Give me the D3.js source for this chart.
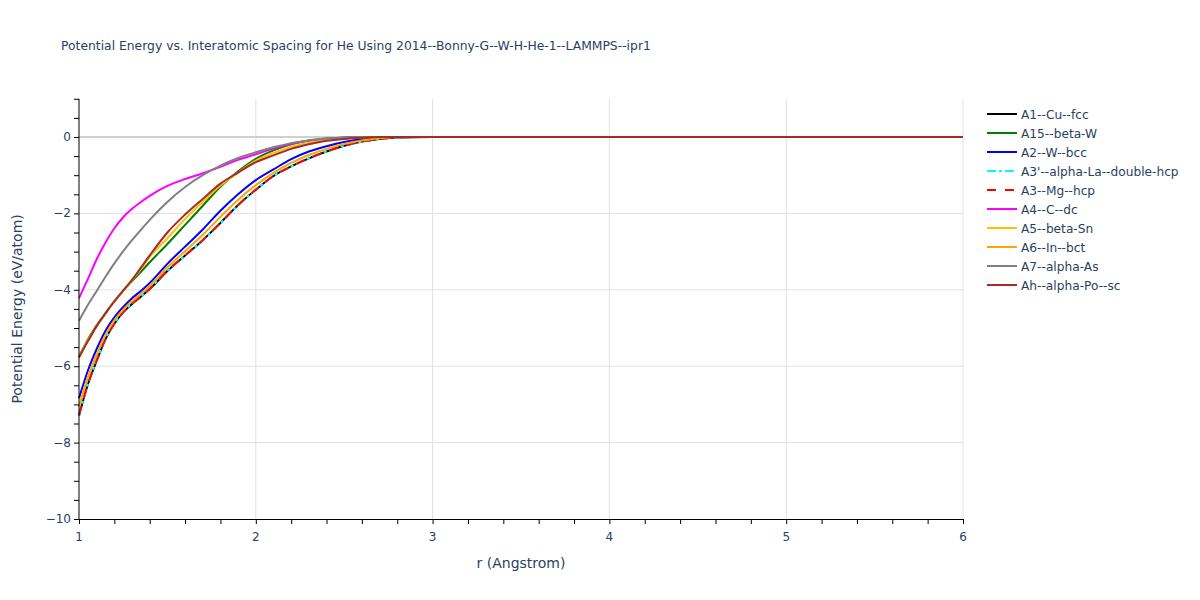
<!DOCTYPE html>
<html>
<head>
<meta charset="utf-8">
<script src="https://cdn.jsdelivr.net/npm/d3@7"></script>
<style>
  html, body { margin: 0; padding: 0; background: #fff; }
  svg { display: block; font-family: "DejaVu Sans", Verdana, sans-serif; }
</style>
</head>
<body>
<svg id="chart" width="1200" height="600"></svg>
<script>
// ---------- data ----------
const rValues = [1.0,1.05,1.1,1.15,1.2,1.25,1.3,1.35,1.4,1.5,1.6,1.7,1.8,1.9,2.0,2.1,2.2,2.3,2.4,2.5,2.6,2.7,2.8,3.0,4.0,5.0,6.0];

const seriesNames = ["A1--Cu--fcc","A15--beta-W","A2--W--bcc","A3'--alpha-La--double-hcp","A3--Mg--hcp","A4--C--dc","A5--beta-Sn","A6--In--bct","A7--alpha-As","Ah--alpha-Po--sc"];

const A1_Cu_fcc   = [-7.30,-6.48,-5.86,-5.29,-4.89,-4.59,-4.37,-4.18,-3.98,-3.51,-3.10,-2.70,-2.25,-1.78,-1.38,-1.02,-0.77,-0.56,-0.38,-0.23,-0.12,-0.05,-0.01,0,0,0,0];
const A15_beta_W  = [-5.75,-5.30,-4.93,-4.60,-4.30,-4.02,-3.77,-3.53,-3.28,-2.80,-2.30,-1.80,-1.30,-0.90,-0.57,-0.35,-0.19,-0.09,-0.04,-0.01,0,0,0,0,0,0,0];
const A2_W_bcc    = [-6.84,-6.12,-5.55,-5.07,-4.72,-4.45,-4.22,-4.03,-3.82,-3.32,-2.87,-2.42,-1.93,-1.50,-1.13,-0.85,-0.58,-0.38,-0.24,-0.13,-0.06,-0.02,0,0,0,0,0];
const A3p_La_dhcp = [-7.29,-6.47,-5.85,-5.28,-4.88,-4.58,-4.36,-4.18,-3.97,-3.50,-3.10,-2.70,-2.25,-1.78,-1.38,-1.02,-0.77,-0.56,-0.38,-0.23,-0.12,-0.05,-0.01,0,0,0,0];
const A3_Mg_hcp   = [-7.28,-6.47,-5.85,-5.28,-4.88,-4.58,-4.36,-4.18,-3.97,-3.50,-3.10,-2.70,-2.25,-1.78,-1.38,-1.02,-0.77,-0.56,-0.38,-0.23,-0.12,-0.05,-0.01,0,0,0,0];
const A4_C_dc     = [-4.22,-3.72,-3.20,-2.76,-2.39,-2.10,-1.88,-1.70,-1.54,-1.28,-1.10,-0.95,-0.78,-0.60,-0.45,-0.30,-0.18,-0.10,-0.05,-0.02,0,0,0,0,0,0,0];
const A5_beta_Sn  = [-5.78,-5.32,-4.95,-4.62,-4.30,-4.02,-3.75,-3.45,-3.14,-2.65,-2.15,-1.70,-1.27,-0.93,-0.62,-0.42,-0.26,-0.15,-0.07,-0.03,-0.01,0,0,0,0,0,0];
const A6_In_bct   = [-7.06,-6.30,-5.70,-5.18,-4.80,-4.52,-4.29,-4.11,-3.90,-3.41,-2.99,-2.56,-2.09,-1.64,-1.26,-0.94,-0.68,-0.47,-0.31,-0.18,-0.09,-0.03,0,0,0,0,0];
const A7_alpha_As = [-4.81,-4.40,-4.03,-3.66,-3.31,-2.99,-2.70,-2.43,-2.17,-1.70,-1.31,-1.00,-0.75,-0.55,-0.40,-0.27,-0.16,-0.09,-0.04,-0.02,0,0,0,0,0,0,0];
const Ah_Po_sc    = [-5.77,-5.35,-4.95,-4.62,-4.30,-4.02,-3.74,-3.42,-3.10,-2.50,-2.03,-1.62,-1.22,-0.93,-0.66,-0.48,-0.31,-0.19,-0.10,-0.05,-0.02,0,0,0,0,0,0];

const seriesValues = [A1_Cu_fcc, A15_beta_W, A2_W_bcc, A3p_La_dhcp, A3_Mg_hcp, A4_C_dc, A5_beta_Sn, A6_In_bct, A7_alpha_As, Ah_Po_sc];

const xTickValues = [1,2,3,4,5,6];
const yTickValues = [-10,-8,-6,-4,-2,0];

// ---------- styles ----------
const colors = ["black","green","blue","cyan","red","magenta","#FFC000","orange","grey","brown"];
const dashes = [null,null,null,"9,3,3,3","9,9",null,null,null,null,null];

// ---------- layout ----------
const svg = d3.select("#chart");
const margin = {left: 79, right: 237, top: 98.8, bottom: 81};
const W = 1200, H = 600;
const x = d3.scaleLinear().domain([1, 6]).range([margin.left, W - margin.right]);
const y = d3.scaleLinear().domain([-10, 1]).range([H - margin.bottom, margin.top]);
const textColor = "#2a3f5f";

// grid
const grid = svg.append("g");
grid.selectAll("line.vx").data(xTickValues.filter(v => v > 1)).enter().append("line")
  .attr("x1", d => x(d)).attr("x2", d => x(d))
  .attr("y1", y(1)).attr("y2", y(-10))
  .attr("stroke", "#e1e1e1").attr("stroke-width", 1);
grid.selectAll("line.hy").data(yTickValues.filter(v => v !== 0 && v !== -10)).enter().append("line")
  .attr("x1", x(1)).attr("x2", x(6))
  .attr("y1", d => y(d)).attr("y2", d => y(d))
  .attr("stroke", "#e1e1e1").attr("stroke-width", 1);
// zero line
grid.append("line")
  .attr("x1", x(1)).attr("x2", x(6)).attr("y1", y(0)).attr("y2", y(0))
  .attr("stroke", "#d0d0d0").attr("stroke-width", 2);

// lines
const line = d3.line().x(d => x(d[0])).y(d => y(d[1])).curve(d3.curveMonotoneX);
const plot = svg.append("g");
seriesValues.forEach((vals, i) => {
  const pts = rValues.map((r, j) => [r, vals[j]]);
  plot.append("path")
    .attr("d", line(pts))
    .attr("fill", "none")
    .attr("stroke", colors[i])
    .attr("stroke-width", 2)
    .attr("stroke-linejoin", "round")
    .attr("stroke-dasharray", dashes[i]);
});

// axes
const xMinor = d3.range(1, 6.0001, 0.2);
const yMinor = d3.range(-10, 1.0001, 0.5);
const xAxis = svg.append("g").attr("transform", `translate(0,${y(-10)})`)
  .call(d3.axisBottom(x).tickValues(xMinor).tickSize(5).tickFormat(""));
xAxis.select(".domain").attr("stroke", "black");
xAxis.selectAll(".tick line").attr("stroke", "black");
svg.append("g").selectAll("text").data(xTickValues).enter().append("text")
  .attr("x", d => x(d)).attr("y", y(-10) + 22)
  .attr("text-anchor", "middle").attr("font-size", 12).attr("fill", textColor)
  .text(d => d);

const yAxis = svg.append("g").attr("transform", `translate(${x(1)},0)`)
  .call(d3.axisLeft(y).tickValues(yMinor).tickSize(5).tickFormat(""));
yAxis.select(".domain").attr("stroke", "black").attr("d", `M0,${y(1)}V${y(-10)}`);
yAxis.selectAll(".tick line").attr("stroke", "black");
svg.append("g").selectAll("text").data(yTickValues).enter().append("text")
  .attr("x", x(1) - 8).attr("y", d => y(d) + 4)
  .attr("text-anchor", "end").attr("font-size", 12).attr("fill", textColor)
  .text(d => d < 0 ? "\u2212" + Math.abs(d) : d);

// titles
svg.append("text").attr("x", 61).attr("y", 50)
  .attr("font-size", 12.35).attr("fill", textColor)
  .text("Potential Energy vs. Interatomic Spacing for He Using 2014--Bonny-G--W-H-He-1--LAMMPS--ipr1");
svg.append("text").attr("x", (x(1) + x(6)) / 2).attr("y", 568)
  .attr("text-anchor", "middle").attr("font-size", 14).attr("fill", textColor)
  .text("r (Angstrom)");
svg.append("text")
  .attr("transform", `translate(22,${(y(1) + y(-10)) / 2}) rotate(-90)`)
  .attr("text-anchor", "middle").attr("font-size", 14).attr("fill", textColor)
  .text("Potential Energy (eV/atom)");

// legend
const legend = svg.append("g").attr("transform", "translate(985,114)");
seriesNames.forEach((name, i) => {
  const g = legend.append("g").attr("transform", `translate(0,${i * 19})`);
  g.append("line").attr("x1", 2).attr("x2", 32).attr("y1", 0).attr("y2", 0)
    .attr("stroke", colors[i]).attr("stroke-width", 2)
    .attr("stroke-dasharray", dashes[i]);
  g.append("text").attr("x", 36).attr("y", 4.5)
    .attr("font-size", 12.2).attr("fill", textColor).text(name);
});
</script>
</body>
</html>
